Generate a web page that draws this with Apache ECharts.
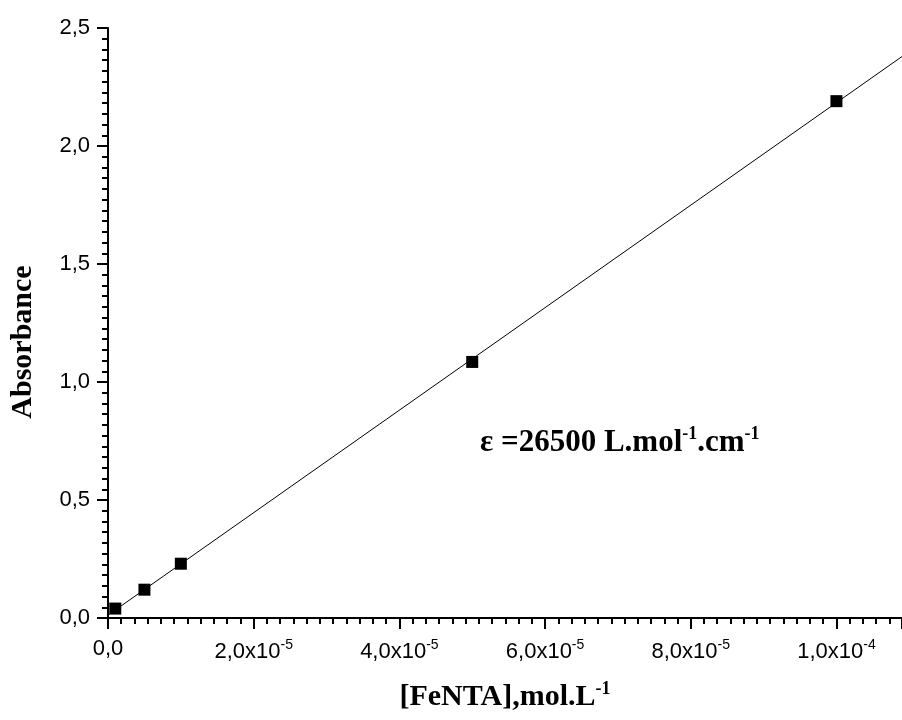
<!DOCTYPE html>
<html>
<head>
<meta charset="utf-8">
<script src="https://cdn.jsdelivr.net/npm/echarts@6/dist/echarts.min.js"></script>
<style>
html,body{margin:0;padding:0;background:#fff;}
#chart{width:902px;height:720px;}
</style>
</head>
<body>
<div id="chart"></div>
<script>
// ---- data ----
var concentration = [1e-6, 5e-6, 1e-5, 5e-5, 1e-4];        // [FeNTA], mol/L
var absorbance    = [0.04, 0.12, 0.23, 1.085, 2.19];
var xTickValues   = [0, 2e-5, 4e-5, 6e-5, 8e-5, 1e-4];
var xTickMantissa = ['0,0', '2,0', '4,0', '6,0', '8,0', '1,0'];
var xTickExponent = ['', '-5', '-5', '-5', '-5', '-4'];
var yTickLabels   = ['0,0', '0,5', '1,0', '1,5', '2,0', '2,5'];
var xAxisMax = 1.09e-4;
var epsilonText = '26500';

// linear least-squares fit of the measured points
function linFit(xs, ys) {
  var n = xs.length, mx = 0, my = 0, sxx = 0, sxy = 0;
  for (var i = 0; i < n; i++) { mx += xs[i]; my += ys[i]; }
  mx /= n; my /= n;
  for (var j = 0; j < n; j++) { sxx += (xs[j]-mx)*(xs[j]-mx); sxy += (xs[j]-mx)*(ys[j]-my); }
  var b = sxy / sxx;
  return { a: my - b*mx, b: b };
}
var fit = linFit(concentration, absorbance);
var fitLine = [[0, fit.a], [xAxisMax, fit.a + fit.b*xAxisMax]];
var points = concentration.map(function (x, i) { return [x, absorbance[i]]; });

var chart = echarts.init(document.getElementById('chart'), null, {renderer: 'canvas'});
var axisFont = 'Liberation Sans, Arial, sans-serif';
var serif = 'Liberation Serif, Times New Roman, serif';

chart.setOption({
  animation: false,
  backgroundColor: '#ffffff',
  grid: { left: 107, top: 28, right: 0, bottom: 102, containLabel: false },
  xAxis: {
    type: 'value', min: 0, max: xAxisMax, interval: 2e-5,
    name: '[FeNTA],mol.L{s|-1}', nameLocation: 'middle', nameGap: 62,
    nameTextStyle: {
      fontFamily: serif, fontWeight: 'bold', fontSize: 30, color: '#000',
      rich: { s: { fontFamily: serif, fontWeight: 'bold', fontSize: 18, color: '#000', padding: [0, 0, 17, 0] } }
    },
    axisLine: { show: true, onZero: false, lineStyle: { color: '#000', width: 2 } },
    axisTick: { show: true, inside: false, length: 11, lineStyle: { color: '#000', width: 2 } },
    minorTick: { show: true, splitNumber: 11, length: 6, lineStyle: { color: '#000', width: 2 } },
    splitLine: { show: false },
    axisLabel: {
      margin: 20, color: '#000', fontFamily: axisFont, fontSize: 22,
      showMaxLabel: false,
      formatter: function (v) {
        var i = Math.round(v / 2e-5);
        if (i === 0) return '{m|' + xTickMantissa[0] + '}';
        return '{m|' + xTickMantissa[i] + 'x10}{e|' + xTickExponent[i] + '}';
      },
      rich: {
        m: { fontFamily: axisFont, fontSize: 22, color: '#000' },
        e: { fontFamily: axisFont, fontSize: 14, color: '#000', padding: [0, 0, 13, 0] }
      }
    }
  },
  yAxis: {
    type: 'value', min: 0, max: 2.5, interval: 0.5,
    name: 'Absorbance', nameLocation: 'middle', nameGap: 70, nameRotate: 90,
    nameTextStyle: { fontFamily: serif, fontWeight: 'bold', fontSize: 30, color: '#000', padding: [0, 38, 0, 0] },
    axisLine: { show: true, onZero: false, lineStyle: { color: '#000', width: 2 } },
    axisTick: { show: true, inside: false, length: 11, lineStyle: { color: '#000', width: 2 } },
    minorTick: { show: true, splitNumber: 11, length: 6, lineStyle: { color: '#000', width: 2 } },
    splitLine: { show: false },
    axisLabel: {
      margin: 18, color: '#000', fontFamily: axisFont, fontSize: 22,
      formatter: function (v) { return yTickLabels[Math.round(v / 0.5)]; }
    }
  },
  series: [
    {
      type: 'line', data: fitLine, showSymbol: false, symbol: 'none',
      lineStyle: { color: '#000', width: 1 }, z: 1, silent: true
    },
    {
      type: 'scatter', data: points, symbol: 'rect', symbolSize: 12,
      itemStyle: { color: '#000', opacity: 1 }, z: 3
    }
  ],
  graphic: [
    {
      type: 'text', left: 480, top: 425, z: 10,
      style: {
        text: '{t|ε =' + epsilonText + ' L.mol}{s|-1}{t|.cm}{s|-1}',
        rich: {
          t: { fontFamily: serif, fontWeight: 'bold', fontSize: 31, fill: '#000', lineHeight: 34 },
          s: { fontFamily: serif, fontWeight: 'bold', fontSize: 18, fill: '#000', padding: [0, 0, 18, 0] }
        }
      }
    }
  ]
});
</script>
</body>
</html>
